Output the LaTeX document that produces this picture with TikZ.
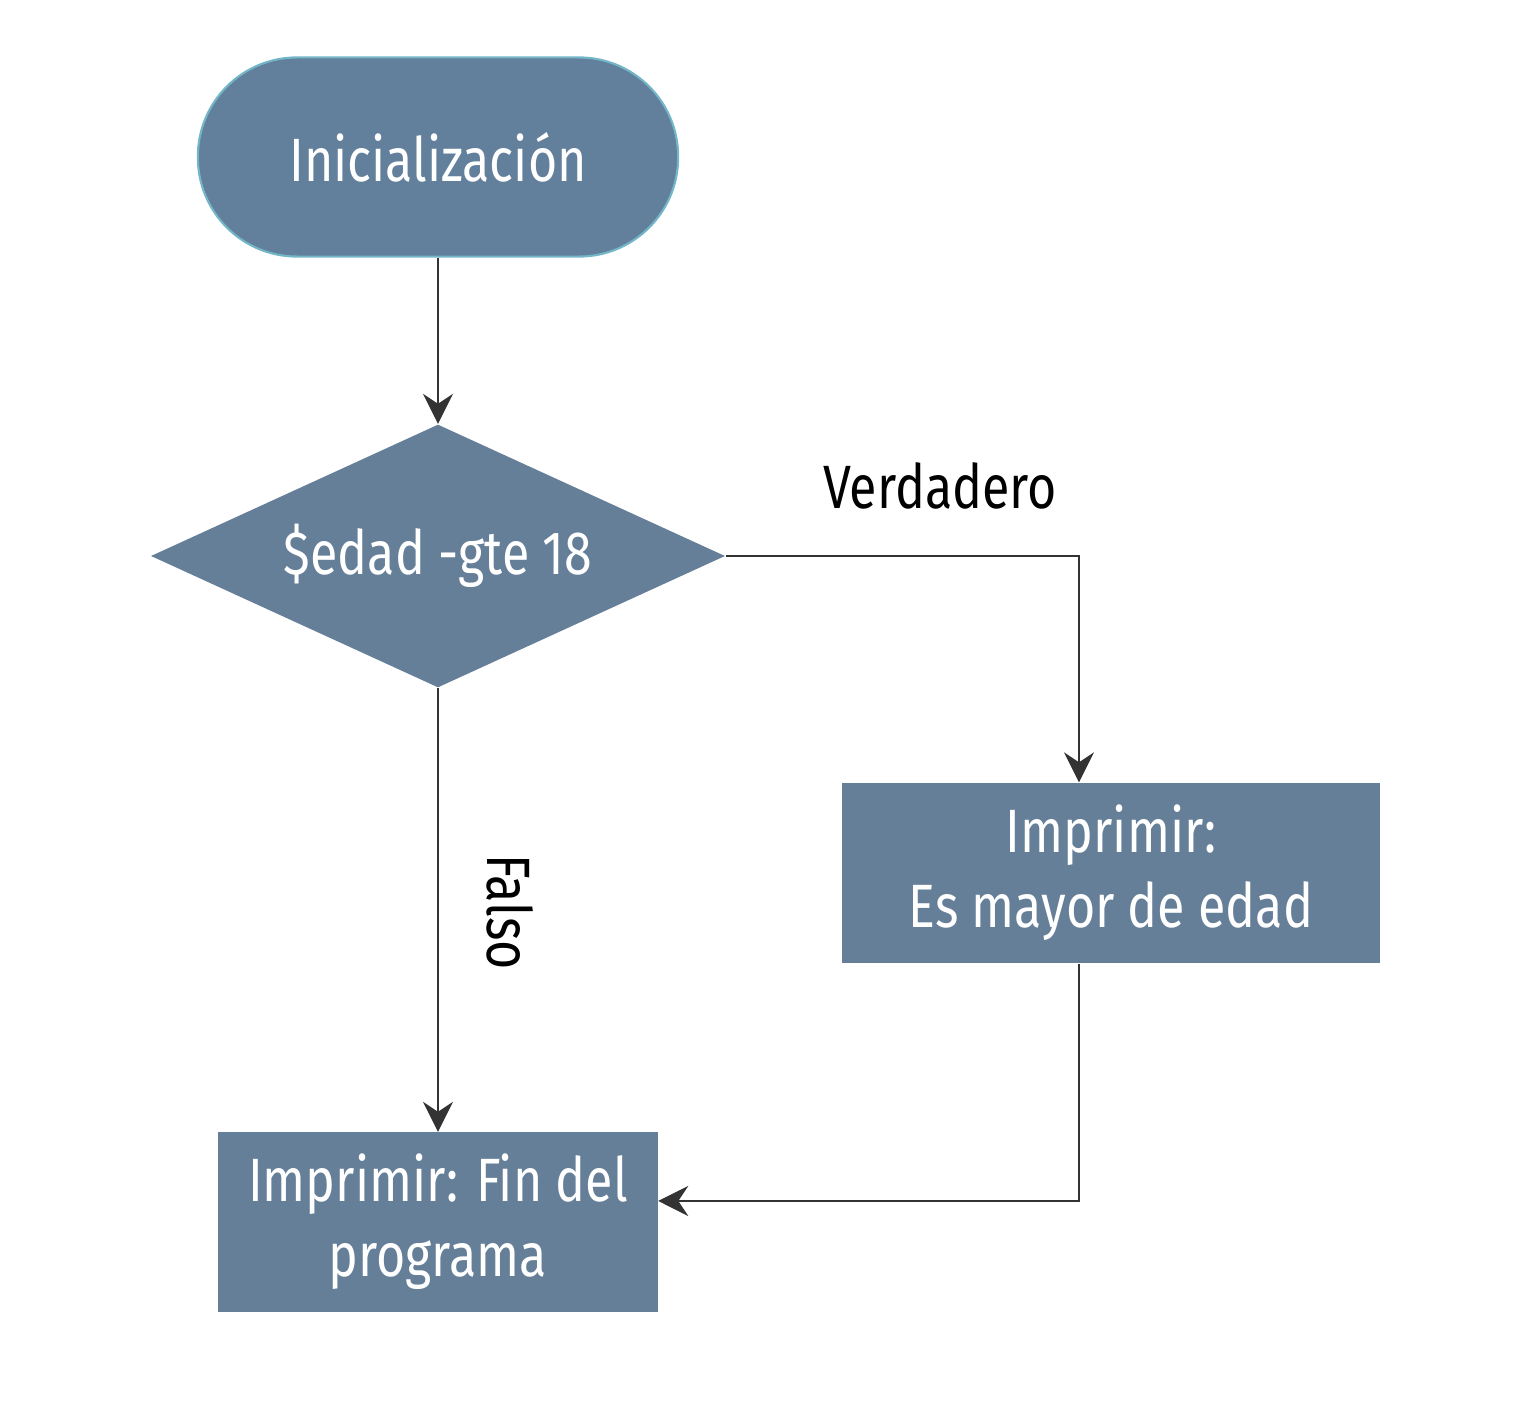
\documentclass[tikz,border=0pt]{standalone}
\usepackage{fontspec}
\setmainfont{Fira Sans}[FakeStretch=0.82]
\usetikzlibrary{arrows.meta,positioning,shapes.geometric}

\definecolor{nodefill}{HTML}{667F99}
\definecolor{startfill}{HTML}{62809C}
\definecolor{startline}{HTML}{72B6C8}
\definecolor{linecol}{HTML}{333333}

\begin{document}
\begin{tikzpicture}[
    x = 0.01cm, y = -0.01cm, % pixel-like units
    > = {Stealth[length=3mm,width=3mm,inset=1mm]}, % arrow head style
    line width = 0.35pt,
    every node/.style = {font=\fontsize{17.4}{21.3}\selectfont}
    ]
\tikzset{
    startbox/.style = {rectangle, rounded corners=0.99cm, fill=startfill,
        draw=startline, line width=0.6pt, text=white,
        minimum width=4.8cm, minimum height=1.99cm},
    decbox/.style = {diamond, shape aspect=2.18, fill=nodefill, text=white,
        inner sep=0pt, minimum width=5.74cm, minimum height=2.63cm},
    procbox/.style = {rectangle, fill=nodefill, text=white, align=center,
        inner sep=0pt},
    conn/.style = {->, draw=linecol}
    }
    \useasboundingbox (0,0) rectangle (1526,1424);

    \node[startbox] (ini) at (438,157) {Inicialización};
    \node[decbox] (dec) at (438,556) {\$edad -gte 18};
    \node[procbox, minimum width=5.38cm, minimum height=1.8cm] (si) at (1111,873)
        {Imprimir:\\Es mayor de edad};
    \node[procbox, minimum width=4.39cm, minimum height=1.79cm] (fin) at (438,1222)
        {Imprimir: Fin del\\programa};

    \node (ver) at (940,486) {Verdadero};
    \node[rotate=-90] (fal) at (510,912) {Falso};

    \draw[conn] (ini) -- (dec);
    \draw[conn] (dec.east) -| ([xshift=-3.2mm]si.north);
    \draw[conn] (dec) -- (fin);
    \draw[conn] ([xshift=-3.2mm]si.south) |- ([yshift=2.1mm]fin.east);
\end{tikzpicture}
\end{document}
